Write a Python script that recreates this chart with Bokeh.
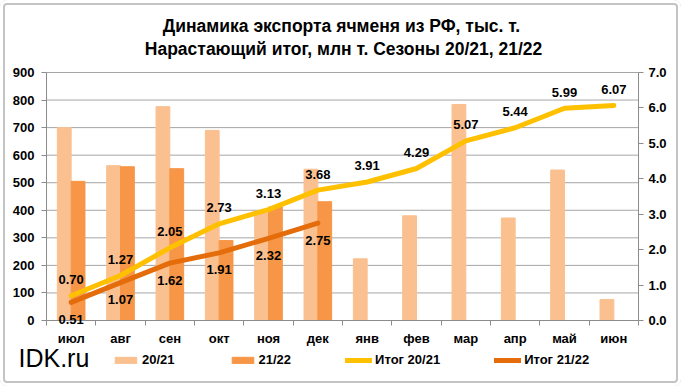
from bokeh.plotting import figure
from bokeh.models import (Range1d, LinearAxis, FixedTicker, ColumnDataSource, LabelSet,
                          Label, Legend, LegendItem, PrintfTickFormatter)
from bokeh.core.properties import value
from bokeh.embed import file_html
from bokeh.resources import INLINE

months = ["июл", "авг", "сен", "окт", "ноя", "дек", "янв", "фев", "мар", "апр", "май", "июн"]
exp_2021 = [700, 562, 776, 690, 390, 549, 224, 380, 784, 372, 546, 76]
exp_2122 = [505, 558, 551, 290, 412, 431]
cum_2021 = [0.70, 1.27, 2.05, 2.73, 3.13, 3.68, 3.91, 4.29, 5.07, 5.44, 5.99, 6.07]
cum_2122 = [0.51, 1.07, 1.62, 1.91, 2.32, 2.75]
left_ticks = [0, 100, 200, 300, 400, 500, 600, 700, 800, 900]
right_ticks = [0, 1, 2, 3, 4, 5, 6, 7]
title_lines = ["Динамика экспорта ячменя из РФ, тыс. т.",
               "Нарастающий итог, млн т. Сезоны 20/21, 21/22"]
site = "IDK.ru"

FONT = "Liberation Sans"
C_L = "#FAC090"
C_D = "#F79646"
C_Y = "#FFC000"
C_O = "#E46C0A"
GRID = "#A6A6A6"
AX = "#8C8C8C"

# canvas / plot-area geometry (pixels)
W, H = 681, 386
PL, PR, PT, PB = 46, 638, 72, 320

n = len(months)
centers = [i + 0.5 for i in range(n)]
bw = 0.28
LMAX, RMAX = left_ticks[-1], right_ticks[-1]

# ranges chosen so that the data area maps to the plot-area rectangle, the
# frame itself covering the whole canvas (so texts outside are not clipped)
sx = (PR - PL) / n
syl = (PB - PT) / LMAX
syr = (PB - PT) / RMAX
x_range = Range1d(-PL / sx, n + (W - PR) / sx)
y_range = Range1d(-(H - PB) / syl, LMAX + PT / syl)
yr_range = Range1d(-(H - PB) / syr, RMAX + PT / syr)

p = figure(width=W, height=H, x_range=x_range, y_range=y_range,
           title=None, output_backend="svg", toolbar_location=None,
           min_border_left=0, min_border_right=0, min_border_top=0, min_border_bottom=0)
p.outline_line_color = None
p.background_fill_alpha = 0
p.border_fill_alpha = 0
p.extra_y_ranges = {"right": yr_range}
p.styles = {"box-shadow": "inset 0 0 0 3px white, inset 0 0 0 5px #C4C4C4",
            "border-radius": "7px", "background": "white"}

# grid lines across the data area
p.xgrid.visible = False
p.ygrid.visible = False
gt = left_ticks[1:]
p.segment(x0=[0] * len(gt), x1=[n] * len(gt), y0=gt, y1=gt, line_color=GRID, line_width=1)

# bars
src_l = ColumnDataSource(dict(x=[c - bw / 2 for c in centers], top=exp_2021))
src_d = ColumnDataSource(dict(x=[c + bw / 2 for c in centers[:len(exp_2122)]], top=exp_2122))
r_l = p.vbar(x="x", top="top", width=bw, source=src_l, fill_color=C_L, line_color=C_L)
r_d = p.vbar(x="x", top="top", width=bw, source=src_d, fill_color=C_D, line_color=C_D)

# lines
src_y = ColumnDataSource(dict(x=centers, y=cum_2021, t=[f"{v:.2f}" for v in cum_2021]))
src_o = ColumnDataSource(dict(x=centers[:len(cum_2122)], y=cum_2122, t=[f"{v:.2f}" for v in cum_2122]))
r_y = p.line("x", "y", source=src_y, y_range_name="right", line_color=C_Y, line_width=5,
             line_cap="round", line_join="round")
r_o = p.line("x", "y", source=src_o, y_range_name="right", line_color=C_O, line_width=5,
             line_cap="round", line_join="round")

for src, off in ((src_y, 16), (src_o, -17)):
    p.add_layout(LabelSet(x="x", y="y", text="t", source=src, y_range_name="right",
                          y_offset=off, text_align="center", text_baseline="middle",
                          text_font=value(FONT), text_font_size="13px",
                          text_font_style="bold", text_color="black"))

# axes (pinned to the data area)
def style_axis(ax):
    ax.axis_line_color = AX
    ax.major_tick_line_color = AX
    ax.minor_tick_line_color = AX
    ax.major_label_text_font = FONT
    ax.major_label_text_font_size = "13px"
    ax.major_label_text_font_style = "bold"
    ax.major_label_text_color = "black"

xa = p.xaxis[0]
xa.ticker = FixedTicker(ticks=centers, minor_ticks=list(range(n + 1)))
xa.major_label_overrides = {c: m for c, m in zip(centers, months)}
xa.fixed_location = 0
xa.bounds = (0, n)
style_axis(xa)
xa.major_tick_line_color = None
xa.major_tick_out = 0
xa.major_tick_in = 0
xa.minor_tick_out = 5
xa.minor_tick_in = 0
xa.major_label_standoff = 5

ya = p.yaxis[0]
ya.ticker = FixedTicker(ticks=left_ticks)
ya.fixed_location = 0
ya.bounds = (0, LMAX)
style_axis(ya)
ya.major_tick_out = 5
ya.major_tick_in = 0
ya.minor_tick_line_color = None
ya.major_label_standoff = 7

yr = LinearAxis(y_range_name="right", ticker=FixedTicker(ticks=right_ticks),
                formatter=PrintfTickFormatter(format="%.1f"), fixed_location=n,
                bounds=(0, RMAX))
style_axis(yr)
yr.major_tick_out = 5
yr.major_tick_in = 0
yr.minor_tick_line_color = None
yr.major_label_standoff = 5
p.add_layout(yr, "right")

# title
for txt, (cx, cy) in zip(title_lines, ((341, 25), (343, 48))):
    p.add_layout(Label(x=cx, y=H - cy, x_units="screen", y_units="screen", text=txt,
                       text_align="center", text_baseline="middle", text_font=FONT,
                       text_font_size="17.5px", text_font_style="bold", text_color="black"))

# site name
p.add_layout(Label(x=18, y=H - 357, x_units="screen", y_units="screen", text=site,
                   text_align="left", text_baseline="middle", text_font=FONT,
                   text_font_size="25px", text_color="black"))

# legend
legend = Legend(items=[LegendItem(label="20/21", renderers=[r_l]),
                       LegendItem(label="21/22", renderers=[r_d]),
                       LegendItem(label="Итог 20/21", renderers=[r_y]),
                       LegendItem(label="Итог 21/22", renderers=[r_o])],
                orientation="horizontal", location=(112, H - 367), spacing=54,
                glyph_width=27, glyph_height=8, label_height=8, label_standoff=3,
                padding=0, margin=0, border_line_color=None, background_fill_alpha=0,
                label_text_font=FONT, label_text_font_size="13px",
                label_text_font_style="bold", label_text_color="black")
p.add_layout(legend, "center")

open("out.html", "w").write(file_html(p, INLINE))
